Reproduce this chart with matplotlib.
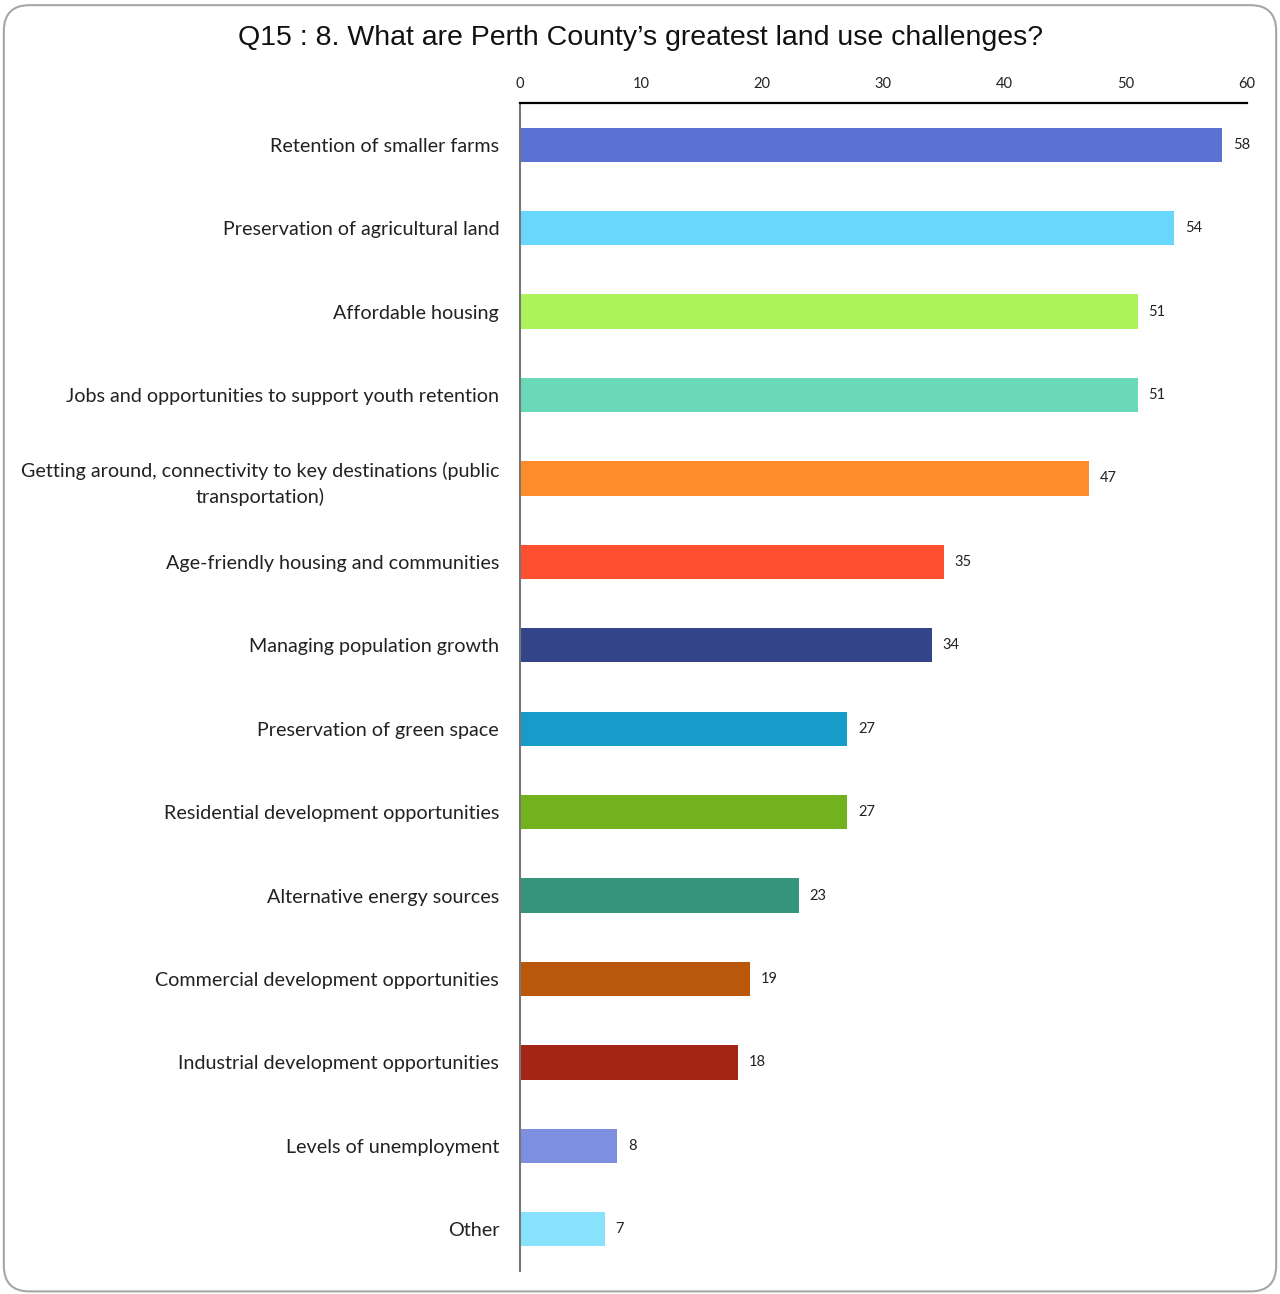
import matplotlib
matplotlib.use('Agg')
import matplotlib.pyplot as plt
from matplotlib.patches import FancyBboxPatch

# survey responses, top to bottom
categories = ['Retention of smaller farms',
              'Preservation of agricultural land',
              'Affordable housing',
              'Jobs and opportunities to support youth retention',
              'Getting around, connectivity to key destinations (public\ntransportation)',
              'Age-friendly housing and communities',
              'Managing population growth',
              'Preservation of green space',
              'Residential development opportunities',
              'Alternative energy sources',
              'Commercial development opportunities',
              'Industrial development opportunities',
              'Levels of unemployment',
              'Other']
counts = [58, 54, 51, 51, 47, 35, 34, 27, 27, 23, 19, 18, 8, 7]
colors = ['#5B72D3', '#69D7FC', '#AEF25C', '#6AD9B8', '#FF8C2B', '#FF4F31', '#334488',
          '#179BC8', '#73B21F', '#34957A', '#B9570B', '#A32514', '#7F8FE0', '#88E1FD']
xticks = [0, 10, 20, 30, 40, 50, 60]

fig = plt.figure(figsize=(12.8, 12.94), dpi=100)

# rounded frame around the whole chart
frame = FancyBboxPatch((0.003, 0.002), 0.994, 0.994,
                       boxstyle='round,pad=0,rounding_size=0.02',
                       transform=fig.transFigure, facecolor='none',
                       edgecolor='#A6A6A6', linewidth=1.5, zorder=0)
fig.patches.append(frame)

ax = fig.add_axes([0.40625, 0.0178, 0.5677, 0.9026])
ypos = list(range(len(categories)))
ax.barh(ypos, counts, height=0.41, color=colors, zorder=2)
for y, v in zip(ypos, counts):
    ax.text(v + 0.9, y, str(v), va='center', ha='left', fontsize=10.5,
            family='Lato', color='#222222')

ax.set_xlim(0, 60)
ax.set_ylim(13.5, -0.5)
ax.set_yticks(ypos)
ax.set_yticklabels(categories, fontsize=14.2, family='Lato', color='#222222',
                   multialignment='center', linespacing=1.5)
ax.set_xticks(xticks)
ax.set_xticklabels([str(t) for t in xticks], fontsize=10.5, family='Lato', color='#222222')
ax.xaxis.tick_top()
ax.tick_params(axis='x', length=0, pad=9)
ax.tick_params(axis='y', length=0, pad=15)
ax.patch.set_alpha(0)
ax.spines['right'].set_visible(False)
ax.spines['bottom'].set_visible(False)
ax.spines['top'].set_color('#000000')
ax.spines['top'].set_linewidth(1.6)
ax.spines['left'].set_color('#777777')
ax.spines['left'].set_linewidth(1.5)

fig.text(0.5, 0.9705, 'Q15 : 8. What are Perth County\u2019s greatest land use challenges?',
         ha='center', va='center', fontsize=20.5, family='Liberation Sans', color='#111111')

fig.savefig('out.png', dpi=100)
